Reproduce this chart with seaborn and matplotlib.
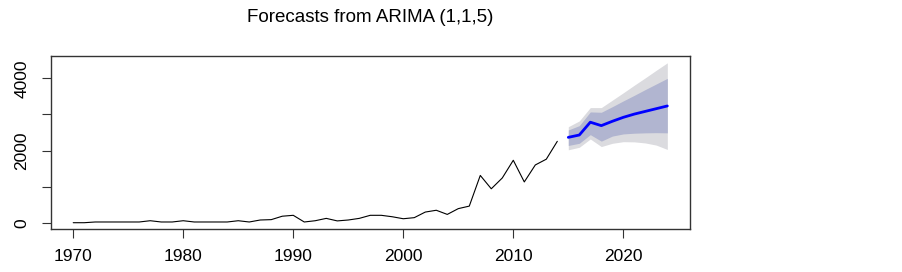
import matplotlib
matplotlib.use("Agg")
import matplotlib.pyplot as plt
import seaborn as sns
import pandas as pd

# observed series
years = list(range(1970, 2015))
values = [0, 0, 20, 20, 20, 20, 20, 55, 20, 20,
          55, 20, 20, 20, 20, 55, 20, 75, 85, 180,
          205, 20, 55, 120, 50, 75, 120, 205, 205, 165,
          110, 140, 295, 345, 230, 390, 460, 1310, 940, 1240,
          1730, 1130, 1600, 1760, 2255]

# forecast with 80 / 95 intervals
fc_years = list(range(2015, 2025))
fc_mean = [2365, 2430, 2785, 2690, 2810, 2920, 3010, 3085, 3160, 3235]
lo80 = [2140, 2200, 2440, 2260, 2400, 2460, 2480, 2490, 2495, 2490]
hi80 = [2570, 2690, 3070, 3060, 3215, 3375, 3530, 3690, 3845, 4000]
lo95 = [2020, 2090, 2320, 2110, 2200, 2245, 2240, 2210, 2150, 2030]
hi95 = [2660, 2820, 3190, 3190, 3395, 3600, 3810, 4015, 4225, 4430]

y_ticks = [0, 1000, 2000, 3000, 4000]
y_labels = ["0", "", "2000", "", "4000"]
x_ticks = [1970, 1980, 1990, 2000, 2010, 2020]

sns.set_style("white")
plt.rcParams['font.family'] = ['Liberation Sans', 'DejaVu Sans']
plt.rcParams['text.color'] = 'black'
plt.rcParams['xtick.color'] = 'black'
plt.rcParams['ytick.color'] = 'black'

hist = pd.DataFrame({"year": years, "value": values})
fc = pd.DataFrame({"year": fc_years, "mean": fc_mean})

fig = plt.figure(figsize=(9.03, 2.72), dpi=100)
ax = fig.add_axes([0.0561, 0.158, 0.708, 0.637])

ax.fill_between(fc_years, lo95, hi95, color="#dbdbdf", linewidth=0)
ax.fill_between(fc_years, lo80, hi80, color="#b1b5d0", linewidth=0)
sns.lineplot(data=hist, x="year", y="value", ax=ax, color="black", linewidth=0.8)
sns.lineplot(data=fc, x="year", y="mean", ax=ax, color="#0000ff", linewidth=2)

ax.set_xlim(1967.95, 2026.06)
ax.set_ylim(-175, 4626)
ax.set_xticks(x_ticks)
ax.set_xticklabels([str(t) for t in x_ticks])
ax.set_yticks(y_ticks)
ax.set_yticklabels(y_labels, rotation=90, va="center")
ax.set_xlabel("")
ax.set_ylabel("")
ax.tick_params(axis="both", direction="out", length=6.5, width=0.8,
               labelsize=12.5, labelcolor="black", color="#333333",
               bottom=True, left=True)
ax.tick_params(axis="x", pad=8)
ax.tick_params(axis="y", pad=9)
for s in ax.spines.values():
    s.set_color("#333333")
    s.set_linewidth(1.0)

fig.text(0.41, 0.935, "Forecasts from ARIMA (1,1,5)", ha="center", va="center",
         fontsize=13.5, color="black")

fig.savefig("out.png", dpi=100)
